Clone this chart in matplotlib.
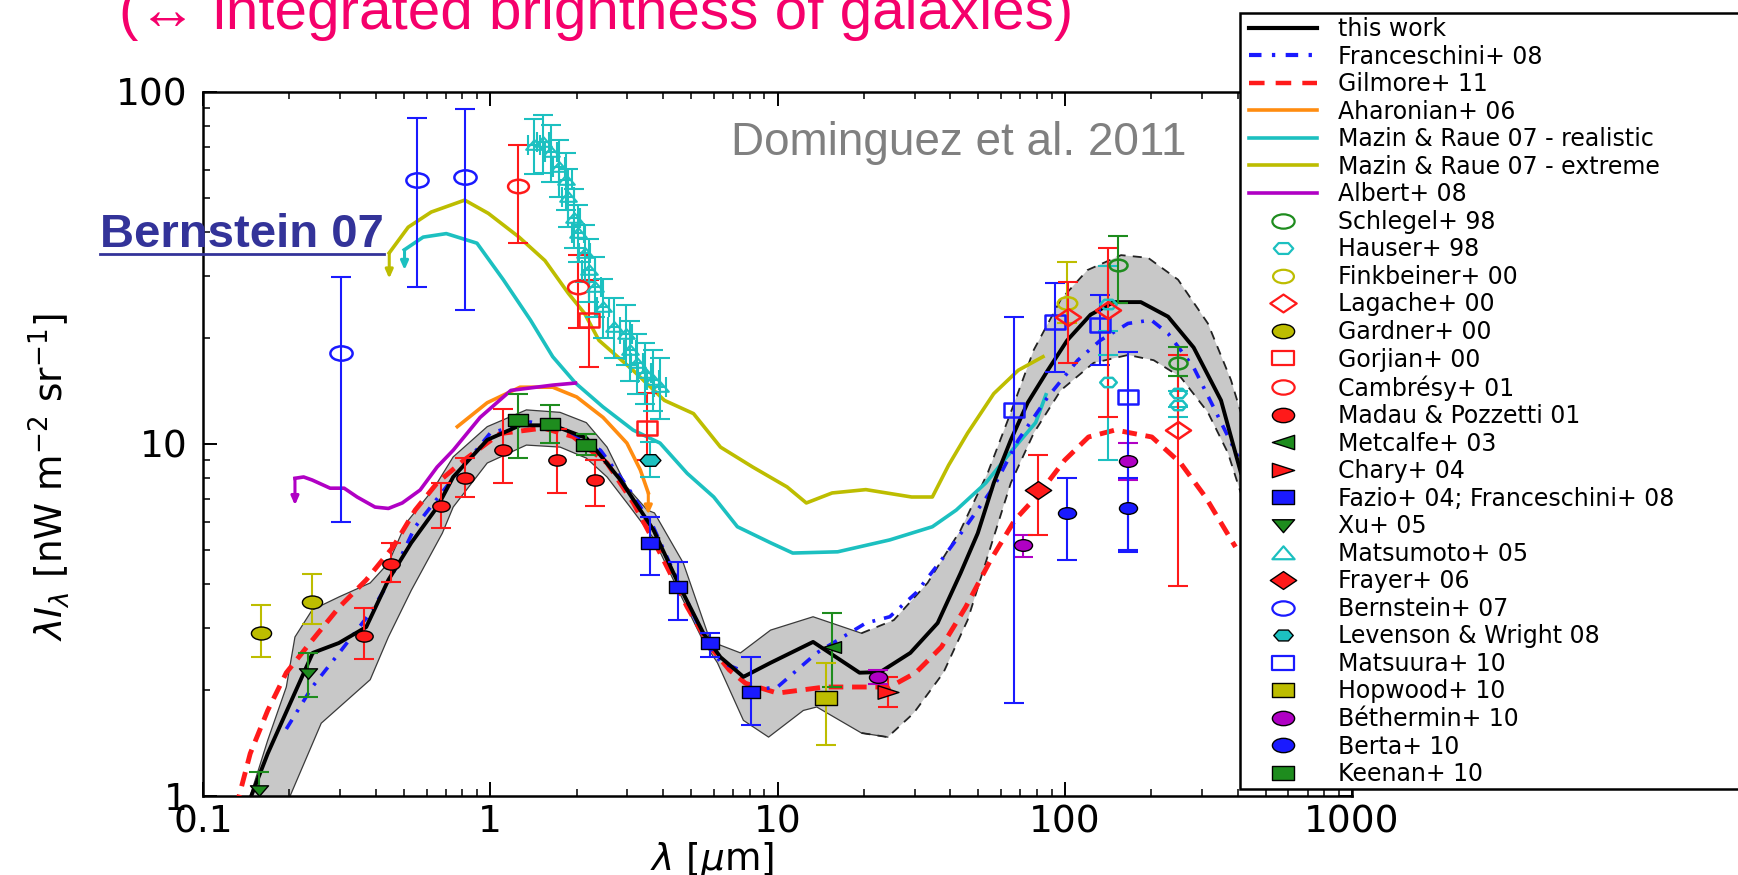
import numpy as np
import matplotlib
matplotlib.use('Agg')
import matplotlib.pyplot as plt
from matplotlib.lines import Line2D
from matplotlib.patches import Rectangle
from matplotlib.path import Path
from matplotlib.transforms import Affine2D
import matplotlib.ticker as mticker

# ---------------- data ----------------
this_work_x = [0.14, 0.168, 0.2015, 0.241, 0.297, 0.370, 0.442, 0.531, 0.654, 0.743, 0.976, 1.27, 1.55, 1.75,
               2.16, 2.84, 3.70, 4.58, 5.52, 6.33, 7.61, 9.46, 13.3, 19.3, 22.8, 29.0, 36.1, 43.4, 49.8, 56.6,
               64.9, 74.3, 87.3, 102, 123, 148, 184, 229, 281, 350, 410]
this_work_y = [0.9, 1.32, 1.84, 2.55, 2.72, 3.02, 4.11, 5.24, 6.62, 8.06, 10.27, 11.3, 11.3, 11.1,
               10.4, 7.9, 5.70, 3.92, 2.90, 2.48, 2.18, 2.39, 2.74, 2.24, 2.25, 2.55, 3.10, 4.30, 5.58, 7.75,
               10.27, 13.1, 16.2, 19.7, 23.3, 25.3, 25.3, 23.0, 18.8, 13.3, 8.3]

band_up_x = [0.146, 0.168, 0.195, 0.209, 0.240, 0.298, 0.382, 0.442, 0.509, 0.632, 0.743, 0.976, 1.336, 1.75,
             2.16, 2.55, 2.99, 3.52, 3.73, 4.70, 5.84, 7.43, 9.46, 13.3, 19.6, 25.4, 33.3, 43.4, 54.0, 64.9,
             78.0, 96.8, 120, 157, 195, 248, 315, 379, 410]
band_up_y = [1.0, 1.44, 2.04, 2.83, 3.38, 3.68, 4.03, 4.59, 5.96, 7.42, 9.19, 11.2, 12.5, 12.3,
             11.5, 9.8, 7.55, 6.49, 6.37, 4.59, 2.75, 2.55, 2.96, 3.23, 2.90, 3.16, 4.03, 5.70, 8.3, 12.3,
             18.5, 25.7, 31.2, 34.4, 33.8, 29.3, 22.0, 15.2, 12.3]
band_lo_x = [0.201, 0.258, 0.382, 0.442, 0.531, 0.681, 0.743, 0.976, 1.336, 1.75, 2.16, 2.55, 3.07, 3.70,
             4.58, 5.52, 6.18, 7.61, 9.31, 12.3, 13.7, 19.6, 24.2, 29.8, 37.8, 45.9, 55.2, 64.9, 78.0, 96.8,
             126, 166, 204, 253, 315, 370, 410]
band_lo_y = [1.0, 1.61, 2.14, 2.83, 3.84, 5.58, 6.62, 8.83, 9.93, 9.80, 9.12, 8.06, 6.62, 5.40,
             3.75, 2.75, 2.39, 1.64, 1.47, 1.75, 1.79, 1.51, 1.47, 1.72, 2.24, 3.16, 5.10, 7.75, 10.74, 14.2,
             17.0, 17.9, 17.3, 15.5, 12.3, 9.43, 7.26]

franceschini_x = [0.195, 0.24, 0.298, 0.382, 0.442, 0.548, 0.703, 1.0, 1.38, 1.85, 2.42, 2.99, 3.70, 4.58,
                  5.52, 6.33, 7.43, 8.2, 10.0, 13.7, 20.3, 24.6, 30.3, 37.2, 45.2, 56.6, 68.9, 87.3, 111,
                  133, 166, 200, 229, 281, 330, 401]
franceschini_y = [1.55, 2.04, 2.55, 3.31, 4.03, 5.82, 7.55, 10.74, 11.55, 10.96, 9.6, 7.6, 5.8, 3.95,
                  2.85, 2.4, 2.28, 2.0, 2.04, 2.55, 3.10, 3.23, 3.77, 4.68, 5.82, 7.55, 10.27, 13.6, 17.3,
                  19.7, 22.0, 22.5, 20.6, 16.5, 12.7, 9.2]

gilmore_x = [0.13, 0.146, 0.168, 0.195, 0.240, 0.298, 0.370, 0.459, 0.548, 0.653, 0.811, 1.08, 1.53, 1.94,
             2.55, 3.15, 3.90, 4.85, 5.84, 6.8, 7.74, 10.0, 14.6, 24.6, 30.3, 37.2, 45.2, 55.2, 67.0, 81.8,
             100, 121, 150, 201, 253, 309, 393]
gilmore_y = [0.92, 1.32, 1.75, 2.24, 2.77, 3.44, 4.11, 5.10, 6.49, 7.75, 9.0, 10.7, 11.1, 10.5,
             8.83, 6.8, 4.9, 3.44, 2.65, 2.28, 2.09, 1.96, 2.04, 2.04, 2.24, 2.65, 3.44, 4.68, 6.08, 7.26,
             9.0, 10.47, 10.96, 10.47, 8.83, 7.07, 5.10]

aharonian_x = [0.768, 0.976, 1.27, 1.65, 2.0, 2.47, 2.99, 3.33, 3.55]
aharonian_y = [11.2, 13.1, 14.5, 14.5, 13.6, 11.9, 10.06, 8.44, 7.26]

mr_real_x = [0.502, 0.584, 0.703, 0.899, 1.11, 1.38, 1.65, 1.98, 2.47, 3.14, 3.9, 4.85, 6.0, 7.25, 9.46,
             11.3, 16.2, 24.6, 34.6, 41.9, 53.1, 67.0, 79.2, 86]
mr_real_y = [35.6, 38.7, 39.6, 37.2, 29.3, 22.5, 17.7, 14.9, 12.74, 10.96, 10.06, 8.25, 7.07, 5.82, 5.24,
             4.90, 4.94, 5.34, 5.82, 6.49, 7.75, 9.8, 11.5, 13.8]

mr_ext_x = [0.445, 0.518, 0.623, 0.815, 0.985, 1.26, 1.55, 1.87, 2.13, 2.39, 3.14, 4.04, 5.1, 6.33, 8.2,
            10.8, 12.6, 15.5, 20.3, 29.3, 34.6, 39.4, 45.9, 56.6, 68.9, 84]
mr_ext_y = [34.9, 41.3, 45.6, 49.3, 45.2, 38.7, 33.2, 26.8, 23.5, 19.7, 16.2, 13.3, 12.2, 9.8, 8.6,
            7.55, 6.8, 7.26, 7.42, 7.07, 7.07, 8.7, 10.74, 13.9, 16.2, 17.7]

albert_x = [0.209, 0.224, 0.24, 0.277, 0.31, 0.344, 0.397, 0.442, 0.494, 0.57, 0.653, 0.743, 0.922, 1.18,
            1.65, 1.98]
albert_y = [7.99, 8.06, 7.9, 7.49, 7.49, 7.07, 6.62, 6.56, 6.8, 7.4, 8.6, 9.6, 11.9, 14.2, 14.7, 14.9]

# upper-limit arrows: (x, start y, tip y)
arrow_mr_ext = (0.445, 34.9, 29.5)
arrow_mr_real = (0.503, 35.6, 31.2)
arrow_albert = (0.209, 7.99, 6.7)
arrow_aharonian = (3.55, 7.26, 6.3)

# data points: x, y, lower err, upper err
schlegel = ([153, 248], [32.2, 17.0], [7.1, 1.4], [6.8, 1.8])
hauser = ([142, 142, 248, 248], [25.0, 15.0, 14.0, 12.9], [4.0, 6.0, 1.3, 1.0], [7.0, 2.9, 1.6, 1.2])
finkbeiner = ([102], [25.1], [3.0], [7.8])
lagache = ([103, 142, 248], [23.0, 24.0, 10.96], [6.0, 12.1, 7.0], [5.9, 12.0, 6.9])
gardner = ([0.159, 0.24], [2.90, 3.56], [0.42, 0.48], [0.59, 0.71])
gorjian = ([2.2, 3.52], [22.5, 11.1], [6.0, 2.1], [6.8, 2.9])
cambresy = ([1.25, 2.02], [53.9, 27.9], [16.7, 6.6], [16.6, 6.5])
madau = ([0.363, 0.452, 0.674, 0.815, 1.11, 1.71, 2.32],
         [2.85, 4.56, 6.66, 8.0, 9.6, 9.0, 7.9],
         [0.40, 0.51, 0.89, 0.93, 1.85, 1.74, 1.24],
         [0.57, 0.67, 1.09, 1.15, 3.0, 2.0, 1.1])
metcalfe = ([15.5], [2.65], [0.61], [0.66])
chary = ([24.2], [1.97], [0.18], [0.21])
fazio = ([3.6, 4.52, 5.84, 8.1], [5.23, 3.92, 2.72, 1.97], [0.98, 0.76, 0.24, 0.38], [0.97, 0.70, 0.18, 0.51])
xu = ([0.157, 0.232], [1.04, 2.24], [0.1, 0.33], [0.13, 0.31])
matsumoto_x = [1.42, 1.53, 1.63, 1.74, 1.83, 1.87, 1.96, 2.02, 2.13, 2.2, 2.32, 2.47, 2.7, 2.97, 3.07, 3.25,
               3.45, 3.7, 3.9]
matsumoto_y = [70.6, 72.0, 67.6, 61.2, 56.3, 50.4, 44.0, 39.8, 34.9, 31.3, 27.9, 24.5, 21.5, 20.6, 18.5, 17.0,
               15.9, 15.2, 14.5]
matsumoto_lo = [12, 13, 12, 11, 10, 9, 8, 7, 6, 6, 5, 4.5, 4, 3.8, 3.4, 3.1, 2.9, 2.8, 2.7]
matsumoto_hi = [13, 14, 13, 12, 11, 10, 9, 8, 7, 7, 6, 5, 4.5, 4.3, 3.9, 3.6, 3.4, 3.3, 3.1]
matsumoto_xerr = [0.07, 0.07, 0.08, 0.08, 0.09, 0.09, 0.1, 0.1, 0.1, 0.11, 0.11, 0.12, 0.13, 0.14, 0.15, 0.16,
                  0.17, 0.18, 0.19]
frayer = ([80.8], [7.40], [1.9], [1.9])
bernstein = ([0.302, 0.557, 0.815], [18.1, 56.3, 57.3], [12.1, 28.4, 33.3], [11.7, 27.9, 32.4])
levenson = ([3.6], [9.0], [0.94], [1.1])
matsuura = ([66.6, 92.2, 133, 166], [12.5, 22.2, 21.8, 13.6], [10.66, 6.2, 5.0, 8.66], [10.5, 6.5, 4.7, 4.7])
hopwood = ([14.8], [1.90], [0.50], [0.49])
bethermin = ([22.3, 71.6, 166], [2.18, 5.16, 8.94], [0.1, 0.39, 1.04], [0.1, 0.36, 1.12])
berta = ([102, 166], [6.36, 6.6], [1.68, 1.6], [1.64, 1.4])
keenan = ([1.25, 1.61, 2.15], [11.7, 11.4, 9.93], [2.58, 1.34, 0.63], [2.2, 1.5, 0.77])

legend_labels = ['this work', 'Franceschini+ 08', 'Gilmore+ 11', 'Aharonian+ 06',
                 'Mazin & Raue 07 - realistic', 'Mazin & Raue 07 - extreme', 'Albert+ 08',
                 'Schlegel+ 98', 'Hauser+ 98', 'Finkbeiner+ 00', 'Lagache+ 00', 'Gardner+ 00',
                 'Gorjian+ 00', 'Cambrésy+ 01', 'Madau & Pozzetti 01', 'Metcalfe+ 03', 'Chary+ 04',
                 'Fazio+ 04; Franceschini+ 08', 'Xu+ 05', 'Matsumoto+ 05', 'Frayer+ 06', 'Bernstein+ 07',
                 'Levenson & Wright 08', 'Matsuura+ 10', 'Hopwood+ 10', 'Béthermin+ 10', 'Berta+ 10',
                 'Keenan+ 10']

x_ticks = [0.1, 1, 10, 100, 1000]
y_ticks = [1, 10, 100]

# ---------------- styles ----------------
C_BLUE = '#1a1aff'
C_RED = '#ff1a1a'
C_GREEN = '#1e8c1e'
C_CYAN = '#1cc0c0'
C_OLIVE = '#bdbd00'
C_ORANGE = '#ff8c10'
C_MAG = '#b000c4'

S = 1.55
ELL = Path.unit_circle().transformed(Affine2D().scale(S, 1.0))
SQR = Path([(-S, -1), (S, -1), (S, 1), (-S, 1), (-S, -1)], closed=True)
DIA = Path([(-S, 0), (0, 1.05), (S, 0), (0, -1.05), (-S, 0)], closed=True)
TUP = Path([(-S, -0.8), (S, -0.8), (0, 1.0), (-S, -0.8)], closed=True)
TDN = Path([(-S, 0.8), (S, 0.8), (0, -1.0), (-S, 0.8)], closed=True)
TL = Path([(S, -1), (S, 1), (-S, 0), (S, -1)], closed=True)
TR = Path([(-S, -1), (-S, 1), (S, 0), (-S, -1)], closed=True)
ang = np.deg2rad(np.arange(0, 361, 60))
HEX = Path(np.column_stack([S * np.cos(ang), np.sin(ang)]), closed=True)

W, H = 1738, 875
fig = plt.figure(figsize=(W / 100, H / 100), dpi=100)
ax = fig.add_axes([203 / W, 1 - 796 / H, 1149 / W, 704 / H])
ax.set_xscale('log')
ax.set_yscale('log')
ax.set_xlim(0.1, 1000)
ax.set_ylim(1, 100)

# band
ax.fill(np.r_[band_up_x, band_lo_x[::-1]], np.r_[band_up_y, band_lo_y[::-1]],
        color='#c8c8c8', lw=0, zorder=1)
bux, buy = np.array(band_up_x), np.array(band_up_y)
blx, bly = np.array(band_lo_x), np.array(band_lo_y)
for bx, by in ((bux, buy), (blx, bly)):
    m = bx <= 25
    ax.plot(bx[m], by[m], color='#3a3a3a', lw=0.9, zorder=1.5)
    m = bx >= 19
    ax.plot(bx[m], by[m], color='#222222', lw=1.3, ls=(0, (5, 4)), zorder=1.5)

# model curves
ax.plot(mr_ext_x, mr_ext_y, color=C_OLIVE, lw=2.6, zorder=2)
ax.plot(mr_real_x, mr_real_y, color=C_CYAN, lw=2.6, zorder=2)
ax.plot(aharonian_x, aharonian_y, color=C_ORANGE, lw=2.6, zorder=2)
ax.plot(albert_x, albert_y, color=C_MAG, lw=2.6, zorder=2)
for (ax_, y0, y1), c in ((arrow_mr_ext, C_OLIVE), (arrow_mr_real, C_CYAN),
                          (arrow_albert, C_MAG), (arrow_aharonian, C_ORANGE)):
    ax.annotate('', xy=(ax_, y1), xytext=(ax_, y0),
                arrowprops=dict(arrowstyle='-|>,head_width=0.22,head_length=0.5', color=c, lw=2.2,
                                shrinkA=0, shrinkB=0), zorder=2)
ax.plot(gilmore_x, gilmore_y, color=C_RED, lw=3.5, ls=(0, (3, 1.8)), zorder=3)
ax.plot(franceschini_x, franceschini_y, color=C_BLUE, lw=2.6, ls=(0, (3, 2.5, 0.8, 2.5)), zorder=3)
ax.plot(this_work_x, this_work_y, color='black', lw=2.8, zorder=4)


def pts(data, color, marker, mfc, mec, ms, mew=1.0, ecolor=None, xerr=None):
    x, y, lo, hi = data
    ax.errorbar(x, y, yerr=[lo, hi], xerr=xerr, fmt='none', ecolor=ecolor or color, elinewidth=1.5,
                capsize=7, capthick=1.5, zorder=5)
    ax.plot(x, y, ls='none', marker=marker, mfc=mfc, mec=mec, ms=ms, mew=mew, zorder=6)


pts(bernstein, C_BLUE, ELL, 'none', C_BLUE, 16, 1.8)
pts(cambresy, C_RED, ELL, 'none', C_RED, 15, 1.8)
pts(gorjian, C_RED, SQR, 'none', C_RED, 15, 1.8)
pts((matsumoto_x, matsumoto_y, matsumoto_lo, matsumoto_hi), C_CYAN, TUP, 'none', C_CYAN, 12, 1.5,
    xerr=matsumoto_xerr)
pts(levenson, C_CYAN, HEX, C_CYAN, 'black', 15)
pts(gardner, C_OLIVE, ELL, C_OLIVE, 'black', 14.5)
pts(xu, C_GREEN, TDN, C_GREEN, 'black', 13)
pts(madau, C_RED, ELL, C_RED, 'black', 12.5)
pts(keenan, C_GREEN, SQR, C_GREEN, 'black', 14.5)
pts(fazio, C_BLUE, SQR, C_BLUE, 'black', 13.5)
pts(metcalfe, C_GREEN, TL, C_GREEN, 'black', 13)
pts(hopwood, C_OLIVE, SQR, C_OLIVE, 'black', 16)
pts(chary, C_RED, TR, C_RED, 'black', 15)
pts(bethermin, C_MAG, ELL, C_MAG, 'black', 13)
pts(berta, C_BLUE, ELL, C_BLUE, 'black', 13)
pts(frayer, C_RED, DIA, C_RED, 'black', 19)
pts(matsuura, C_BLUE, SQR, 'none', C_BLUE, 15, 1.8)
pts(finkbeiner, C_OLIVE, ELL, 'none', C_OLIVE, 14, 1.8)
pts(hauser, C_CYAN, HEX, 'none', C_CYAN, 12, 1.8)
pts(lagache, C_RED, DIA, 'none', C_RED, 18, 1.8)
pts(schlegel, C_GREEN, ELL, 'none', C_GREEN, 13, 1.8)

# axes styling
fmt = mticker.FuncFormatter(lambda v, p: f'{v:g}')
ax.xaxis.set_major_locator(mticker.FixedLocator(x_ticks))
ax.yaxis.set_major_locator(mticker.FixedLocator(y_ticks))
ax.xaxis.set_major_formatter(fmt)
ax.yaxis.set_major_formatter(fmt)
ax.xaxis.set_minor_locator(mticker.LogLocator(base=10, subs=np.arange(2, 10)))
ax.yaxis.set_minor_locator(mticker.LogLocator(base=10, subs=np.arange(2, 10)))
ax.xaxis.set_minor_formatter(mticker.NullFormatter())
ax.yaxis.set_minor_formatter(mticker.NullFormatter())
ax.tick_params(which='both', direction='in', top=True, right=True, labelsize=27, colors='black')
ax.tick_params(which='major', length=10, width=1.4)
ax.tick_params(which='minor', length=5, width=1.1)
ax.tick_params(axis='x', pad=6)
ax.tick_params(axis='y', pad=11)
for sp in ax.spines.values():
    sp.set_linewidth(1.8)

ax.set_xlabel(r'$\lambda$ [$\mu$m]', fontsize=27)
ax.xaxis.set_label_coords(0.443, -0.062)
ax.set_ylabel(r'$\lambda I_\lambda$ [nW m$^{-2}$ sr$^{-1}$]', fontsize=27)
ax.yaxis.set_label_coords(-0.114, 0.453)

# legend box (extends past the right edge)
rect = Rectangle((1240 / W, 1 - 789 / H), (1800 - 1240) / W, (789 - 13) / H, transform=fig.transFigure,
                 facecolor='white', edgecolor='black', lw=1.8, zorder=3)
fig.add_artist(rect)


def LH(color, ls='-', lw=2.6):
    return Line2D([], [], color=color, ls=ls, lw=lw)


def MH(marker, mfc, mec, ms=16, mew=1.0):
    return Line2D([], [], ls='none', marker=marker, mfc=mfc, mec=mec, ms=ms, mew=mew)


handles = [LH('black', lw=3), LH(C_BLUE, (0, (3, 2.5, 0.8, 2.5)), 3), LH(C_RED, (0, (3.5, 2.5)), 3.2),
           LH(C_ORANGE), LH(C_CYAN), LH(C_OLIVE), LH(C_MAG),
           MH(ELL, 'none', C_GREEN, mew=1.6), MH(HEX, 'none', C_CYAN, 14, 1.6), MH(ELL, 'none', C_OLIVE, 15, 1.6),
           MH(DIA, 'none', C_RED, 19, 1.6), MH(ELL, C_OLIVE, 'black'), MH(SQR, 'none', C_RED, 16, 1.6),
           MH(ELL, 'none', C_RED, 16, 1.6), MH(ELL, C_RED, 'black'), MH(TL, C_GREEN, 'black'),
           MH(TR, C_RED, 'black'), MH(SQR, C_BLUE, 'black'), MH(TDN, C_GREEN, 'black'),
           MH(TUP, 'none', C_CYAN, 16, 1.6), MH(DIA, C_RED, 'black', 19), MH(ELL, 'none', C_BLUE, 16, 1.6),
           MH(HEX, C_CYAN, 'black', 14), MH(SQR, 'none', C_BLUE, 16, 1.6), MH(SQR, C_OLIVE, 'black'),
           MH(ELL, C_MAG, 'black'), MH(ELL, C_BLUE, 'black'), MH(SQR, C_GREEN, 'black')]

fig.legend(handles, legend_labels, loc='upper left', bbox_to_anchor=(1249 / W, 1 - 17 / H),
           frameon=False, fontsize=17, handlelength=2.9, handletextpad=0.85, labelspacing=0.15,
           borderpad=0.0, borderaxespad=0.0)

# texts
fig.text(119 / W, 1 - 29 / H, '(\u2194 integrated brightness of galaxies)', fontsize=42, color='#f5006b',
         family=['Liberation Sans', 'DejaVu Sans'], ha='left', va='baseline')
fig.text(731 / W, 1 - 155 / H, 'Dominguez et al. 2011', fontsize=33, color='#808080',
         family=['Liberation Sans', 'DejaVu Sans'], ha='left', va='baseline')
bt = fig.text(100 / W, 1 - 247 / H, 'Bernstein 07', fontsize=34, weight='bold', color='#333399',
              family=['Liberation Sans', 'DejaVu Sans'], ha='left', va='baseline')
fig.canvas.draw()
bb = bt.get_window_extent()
yl = (bb.y0 + 3) / H
fig.add_artist(Line2D([bb.x0 / W, bb.x1 / W], [yl, yl], transform=fig.transFigure, color='#333399', lw=2))

fig.savefig('out.png', dpi=100)
